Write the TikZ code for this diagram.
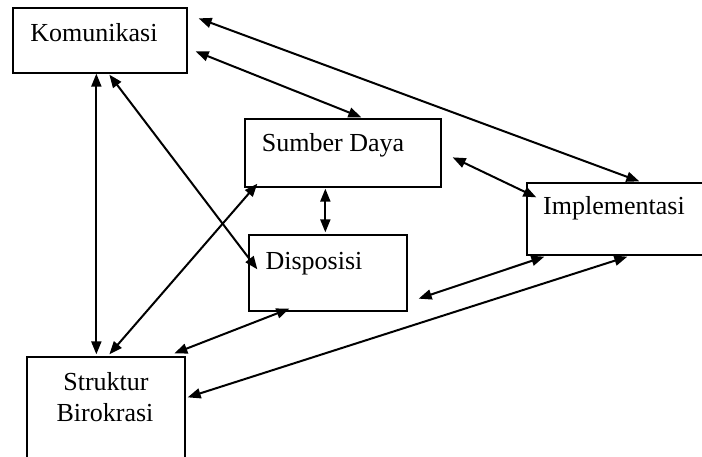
\documentclass[tikz,border=0pt]{standalone}
\usepackage{fontspec}
\setmainfont{Liberation Serif}
\usetikzlibrary{arrows.meta, calc}

\begin{document}
\begin{tikzpicture}[x=1pt, y=-1pt, >={Triangle[length=13pt,width=10pt]},
  box/.style={draw, line width=1.3pt, inner sep=0pt},
  lbl/.style={anchor=base, inner sep=0pt, font=\fontsize{26}{31}\selectfont},
  link/.style={<->, line width=2pt}]
  \useasboundingbox (0,0) rectangle (702,456);
  \clip (0,0) rectangle (702,456);
  % boxes
  \node[box, minimum width=174pt, minimum height=65pt]  (kom) at (100,40.5) {};
  \node[box, minimum width=196pt, minimum height=68pt]  (sd)  at (343,153) {};
  \node[box, minimum width=158pt, minimum height=76pt]  (dis) at (328,273) {};
  \node[box, minimum width=185pt, minimum height=72pt]  (imp) at (619.5,219) {};
  \node[box, minimum width=158pt, minimum height=113pt] (sb)  at (106,413.5) {};
  % labels
  \node[lbl] (komtxt) at (94,41)  {Komunikasi};
  \node[lbl] (sdtxt)  at (333,151) {Sumber Daya};
  \node[lbl] (distxt) at (314,269) {Disposisi};
  \node[lbl] (imptxt) at (614,214) {Implementasi};
  \node[lbl] (strtxt) at (106,390) {Struktur};
  \node[lbl] (birtxt) at (105,421) {Birokrasi};
  % links
  \draw[link] ($(kom.north east)+(11,11)$) -- ($(imp.north west)+(113,-1)$);
  \draw[link] ($(kom.north east)+(8,44)$)  -- ($(sd.north west)+(117,-1)$);
  \draw[link] ($(kom.south west)+(84,0)$)  -- ($(sb.north west)+(70,-2)$);
  \draw[link] ($(kom.south west)+(97,1)$)  -- ($(dis.north west)+(9,35)$);
  \draw[link] ($(sd.south west)+(13,-4)$)  -- ($(sb.north west)+(83,-2)$);
  \draw[link] ($(sd.south west)+(81,1)$)   -- ($(dis.north west)+(77,-2)$);
  \draw[link] ($(sd.north east)+(11,39)$)  -- ($(imp.north west)+(10,15)$);
  \draw[link] ($(dis.south west)+(41,-3)$) -- ($(sb.north west)+(148,-3)$);
  \draw[link] ($(imp.south west)+(18,1)$)  -- ($(dis.south east)+(11,-13)$);
  \draw[link] ($(imp.south west)+(101,1)$) -- ($(sb.north east)+(2,41)$);
\end{tikzpicture}
\end{document}
